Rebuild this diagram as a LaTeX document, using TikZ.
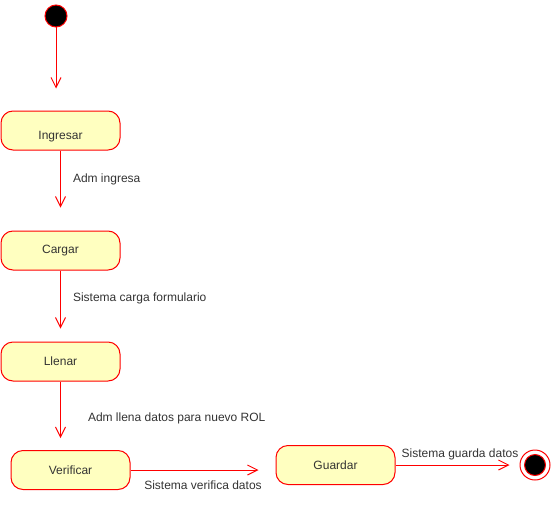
\documentclass[tikz,border=0pt]{standalone}
\usepackage{fontspec}
\setmainfont{Liberation Sans}
\usetikzlibrary{arrows.meta,positioning}
\definecolor{umlred}{RGB}{255,0,0}
\definecolor{umlfill}{RGB}{255,255,192}

\begin{document}
\begin{tikzpicture}[x=1pt,y=-1pt,->,>={Straight Barb[length=10pt,width=10pt]},
                    line width=1pt,node distance=81pt,
                    every node/.style={font=\fontsize{12}{14}\selectfont}]
  \tikzstyle{accion}=[rectangle,rounded corners=12pt,draw=umlred,fill=umlfill,
                      text=black!80,minimum width=119pt,minimum height=39pt]
  \tikzstyle{inicio}=[circle,draw=umlred,fill=black,minimum size=22pt,inner sep=0pt]
  \tikzstyle{fin}=[circle,draw=umlred,fill=white,minimum size=30pt,inner sep=0pt]
  \tikzstyle{etiqueta}=[text=black!80,inner sep=2pt]
  \tikzstyle{flecha}=[draw=umlred]

  \useasboundingbox (0,0) rectangle (551,511);

  \node[inicio] (ini) at (56,16) {};
  \node[accion,text height=17pt,text depth=0pt] (ing) at (60.5,130.5) {Ingresar};
  \node[accion] (car) [below of=ing, yshift=-39pt] {Cargar};
  \node[accion] (lle) [below=71pt of car] {Llenar};
  \node[accion] (ver) at (70.5,470) {Verificar};
  \node[accion] (gua) at (335.5,465) {Guardar};
  \node[fin]    (fin) at (535,465) {};
  \node[inicio,minimum size=21pt] (fin-in) at (fin) {};

  \path[flecha]
    (ini) edge [shorten >=22pt] (ini.south |- ing.north)
    (ing) edge [shorten >=23pt] node[etiqueta,pos=0.36,right=10pt] {Adm ingresa} (car)
    (car) edge [shorten >=13pt] node[etiqueta,pos=0.39,right=10pt] {Sistema carga formulario} (lle)
    (lle) edge [shorten >=12pt] node[etiqueta,pos=0.54,right=25pt] {Adm llena datos para nuevo ROL} (lle.south |- ver.north)
    (ver) edge [shorten >=17pt] node[etiqueta,pos=0.5,below=8pt] {Sistema verifica datos} (ver.east -| gua.west)
    (gua) edge [shorten >=10pt] node[etiqueta,pos=0.52,above=3pt] {Sistema guarda datos} (fin);
\end{tikzpicture}
\end{document}
